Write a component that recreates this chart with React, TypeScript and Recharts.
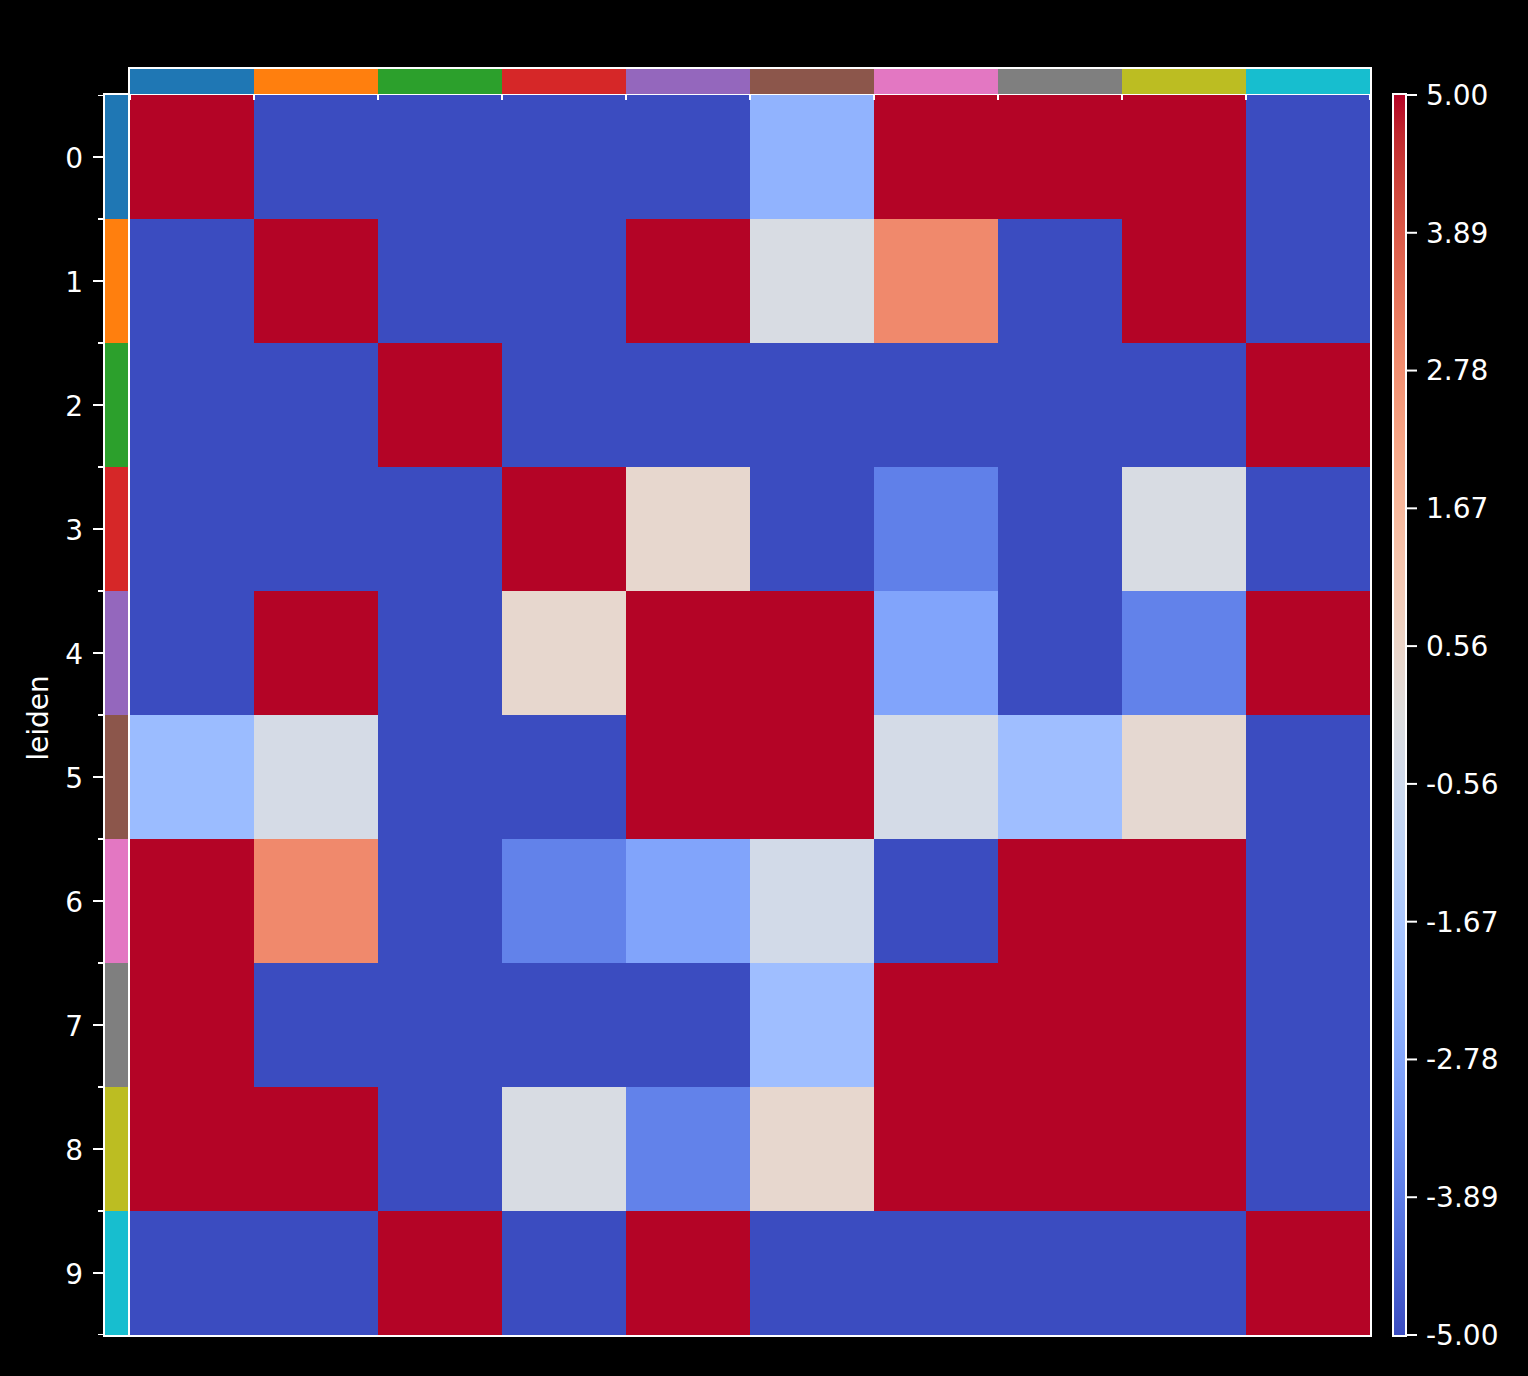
import React from 'react';
import { BarChart, Bar, XAxis, YAxis, Cell } from 'recharts';

// ---- data ----
const rowLabels = ['0', '1', '2', '3', '4', '5', '6', '7', '8', '9'];
const colLabels = ['0', '1', '2', '3', '4', '5', '6', '7', '8', '9'];
const groupColors = ['#1f77b4', '#ff7f0e', '#2ca02c', '#d62728', '#9467bd', '#8c564b', '#e377c2', '#7f7f7f', '#bcbd22', '#17becf'];
const row0 = [5, -5, -5, -5, -5, -2.4, 5, 5, 5, -5];
const row1 = [-5, 5, -5, -5, 5, -0.2, 2.9, -5, 5, -5];
const row2 = [-5, -5, 5, -5, -5, -5, -5, -5, -5, 5];
const row3 = [-5, -5, -5, 5, 0.4, -5, -3.8, -5, -0.2, -5];
const row4 = [-5, 5, -5, 0.4, 5, 5, -2.85, -5, -3.75, 5];
const row5 = [-2.1, -0.3, -5, -5, 5, 5, -0.35, -2.0, 0.3, -5];
const row6 = [5, 2.9, -5, -3.75, -2.85, -0.4, -5, 5, 5, -5];
const row7 = [5, -5, -5, -5, -5, -2.0, 5, 5, 5, -5];
const row8 = [5, 5, -5, -0.2, -3.75, 0.4, 5, 5, 5, -5];
const row9 = [-5, -5, 5, -5, 5, -5, -5, -5, -5, 5];
const matrix = [row0, row1, row2, row3, row4, row5, row6, row7, row8, row9];
const vmin = -5;
const vmax = 5;
const colorbarTicks = [-5, -3.8889, -2.7778, -1.6667, -0.5556, 0.5556, 1.6667, 2.7778, 3.8889, 5];

// ---- coolwarm colormap (Moreland table) ----
const coolwarm: number[][] = [
  [59, 76, 192], [68, 90, 204], [77, 104, 215], [87, 117, 225], [98, 130, 234], [108, 142, 241],
  [119, 154, 247], [130, 165, 251], [141, 176, 254], [152, 185, 255], [163, 194, 255], [174, 201, 253],
  [184, 208, 249], [194, 213, 244], [204, 217, 238], [213, 219, 230], [221, 221, 221], [229, 216, 209],
  [236, 211, 197], [241, 204, 185], [245, 196, 173], [247, 187, 160], [247, 177, 148], [247, 166, 135],
  [244, 154, 123], [241, 141, 111], [236, 127, 99], [229, 112, 88], [222, 96, 77], [213, 80, 66],
  [203, 62, 56], [192, 40, 47], [180, 4, 38],
];
function cmap(t: number): string {
  const tt = Math.max(0, Math.min(1, t));
  const pos = tt * (coolwarm.length - 1);
  const i = Math.min(coolwarm.length - 2, Math.floor(pos));
  const f = pos - i;
  const a = coolwarm[i];
  const b = coolwarm[i + 1];
  const c = a.map((v, k) => Math.round(v + (b[k] - v) * f));
  return `rgb(${c[0]},${c[1]},${c[2]})`;
}
const valueColor = (v: number) => cmap((v - vmin) / (vmax - vmin));

// ---- table data for recharts ----
const heatData = rowLabels.map((r) => {
  const o: any = { row: r };
  colLabels.forEach((c, j) => (o['c' + j] = 1));
  return o;
});
const stripRow: any = { name: 'strip' };
groupColors.forEach((_, j) => (stripRow['g' + j] = 1));
const stripData = [stripRow];
const cbData = [{ name: 'cb', range: [vmin, vmax] }];

const FONT = 'DejaVu Sans';
const halfTicks = Array.from({ length: 21 }, (_, k) => k / 2);
const boundaryTicks = Array.from({ length: 11 }, (_, k) => k);

const LeftTick = (props: any) => {
  const { x, y, payload } = props;
  const v = payload.value as number;
  const isCenter = Math.abs(v - Math.floor(v) - 0.5) < 1e-6;
  return (
    <g>
      <line x1={isCenter ? x - 12 : x - 7} x2={x - 1} y1={y} y2={y} stroke="#fff" strokeWidth={2} />
      {isCenter && (
        <text x={x - 22} y={y + 1} textAnchor="end" dominantBaseline="central" fill="#fff" fontSize={28} fontFamily={FONT}>
          {rowLabels[Math.floor(v)]}
        </text>
      )}
    </g>
  );
};

export default function App() {
  return (
    <div style={{ position: 'absolute', left: 0, top: 0, width: 1528, height: 1376, background: '#000', overflow: 'hidden' }}>
      {/* main heatmap */}
      <div style={{ position: 'absolute', left: 130, top: 95 }}>
        <BarChart width={1240} height={1240} data={heatData} layout="vertical" margin={{ top: 0, right: 0, bottom: 0, left: 0 }} barCategoryGap={0} barGap={0}>
          <XAxis type="number" domain={[0, 10]} hide />
          <YAxis type="category" dataKey="row" hide />
          {colLabels.map((c, j) => (
            <Bar key={c} dataKey={'c' + j} stackId="s" isAnimationActive={false}>
              {matrix.map((row, i) => (
                <Cell key={i} fill={valueColor(row[j])} />
              ))}
            </Bar>
          ))}
        </BarChart>
      </div>
      <div style={{ position: 'absolute', left: 128, top: 93, width: 1244, height: 1244, border: '2px solid #fff', boxSizing: 'border-box' }} />

      {/* top strip */}
      <div style={{ position: 'absolute', left: 128, top: 67, width: 1244, height: 28, border: '2px solid #fff', boxSizing: 'border-box' }} />
      <div style={{ position: 'absolute', left: 130, top: 69 }}>
        <BarChart width={1240} height={31} data={stripData} layout="vertical" margin={{ top: 0, right: 0, bottom: 0, left: 0 }} barCategoryGap={0}>
          <XAxis type="number" domain={[0, 10]} ticks={boundaryTicks} allowDataOverflow height={6} tickSize={6} axisLine={false}
            tickLine={{ stroke: '#fff', strokeWidth: 2 }} tickFormatter={() => ''} />
          <YAxis type="category" dataKey="name" hide />
          {groupColors.map((col, j) => (
            <Bar key={j} dataKey={'g' + j} stackId="s" fill={col} isAnimationActive={false} />
          ))}
        </BarChart>
      </div>

      {/* left strip */}
      <div style={{ position: 'absolute', left: 103, top: 93, width: 27, height: 1244, border: '2px solid #fff', boxSizing: 'border-box' }} />
      <div style={{ position: 'absolute', left: 5, top: 95 }}>
        <BarChart width={123} height={1240} data={stripData} margin={{ top: 0, right: 0, bottom: 0, left: 0 }} barCategoryGap={0}>
          <XAxis type="category" dataKey="name" hide />
          <YAxis type="number" domain={[0, 10]} reversed ticks={halfTicks} allowDataOverflow width={100} tickSize={0} tickMargin={0}
            axisLine={false} tickLine={false} tick={<LeftTick />} interval={0}
            label={{
              content: (p: any) => {
                const vb = p.viewBox || { x: 0, y: 0, width: 0, height: 1240 };
                const cx = vb.x + 33;
                const cy = vb.y + vb.height / 2 + 3;
                return (
                  <text x={cx} y={cy} transform={`rotate(-90, ${cx}, ${cy})`} textAnchor="middle" dominantBaseline="central" fill="#fff" fontSize={28} fontFamily={FONT}>
                    leiden
                  </text>
                );
              },
            }} />
          {groupColors.map((col, j) => (
            <Bar key={j} dataKey={'g' + j} stackId="s" fill={col} isAnimationActive={false} />
          ))}
        </BarChart>
      </div>

      {/* colorbar */}
      <div style={{ position: 'absolute', left: 1392, top: 93, width: 15, height: 1244, border: '2px solid #fff', boxSizing: 'border-box' }} />
      <div style={{ position: 'absolute', left: 1394, top: 65 }}>
        <BarChart width={124} height={1300} data={cbData} margin={{ top: 30, right: 0, bottom: 30, left: 0 }} barCategoryGap={0}>
          <defs>
            <linearGradient id="coolwarmGrad" x1="0" y1="1" x2="0" y2="0">
              {coolwarm.map((c, k) => (
                <stop key={k} offset={k / (coolwarm.length - 1)} stopColor={`rgb(${c[0]},${c[1]},${c[2]})`} />
              ))}
            </linearGradient>
          </defs>
          <XAxis type="category" dataKey="name" hide />
          <YAxis type="number" orientation="right" domain={[vmin, vmax]} ticks={colorbarTicks} allowDataOverflow interval={0} width={113}
            tickSize={12} tickMargin={9} axisLine={false} tickLine={{ stroke: '#fff', strokeWidth: 2 }}
            tick={{ fill: '#fff', fontSize: 28, fontFamily: FONT }} tickFormatter={(v: number) => v.toFixed(2)} />
          <Bar dataKey="range" fill="url(#coolwarmGrad)" isAnimationActive={false} />
        </BarChart>
      </div>
    </div>
  );
}
